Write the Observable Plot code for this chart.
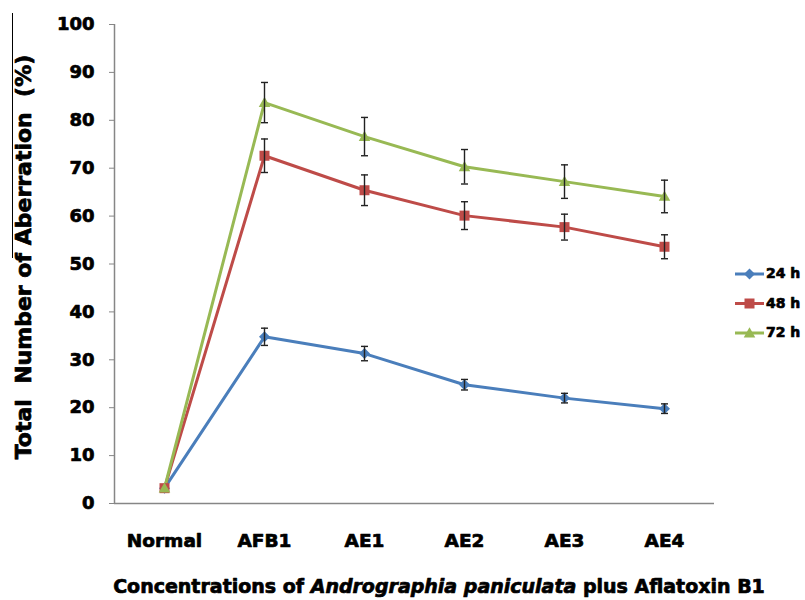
<!DOCTYPE html>
<html>
<head>
<meta charset="utf-8">
<script src="https://cdn.jsdelivr.net/npm/d3@7"></script>
<script src="https://cdn.jsdelivr.net/npm/@observablehq/plot@0.6"></script>
<style>
  html, body { margin: 0; padding: 0; background: #fff; }
  #chart svg { display: block; }
  #chart svg text { stroke: #000; stroke-width: 0.7px; paint-order: stroke; stroke-linejoin: round; }
</style>
</head>
<body>
<div id="chart"></div>
<script>
// ---- data ----
const categories = ["Normal", "AFB1", "AE1", "AE2", "AE3", "AE4"];
const seriesNames = ["24 h", "48 h", "72 h"];
const values24 = [3.2, 34.8, 31.3, 24.8, 22.0, 19.8];
const errors24 = [0, 1.8, 1.5, 1.1, 1.0, 1.0];
const values48 = [3.2, 72.6, 65.4, 60.1, 57.7, 53.6];
const errors48 = [0, 3.5, 3.2, 2.9, 2.7, 2.5];
const values72 = [3.2, 83.7, 76.6, 70.3, 67.2, 64.1];
const errors72 = [0, 4.2, 4.0, 3.6, 3.5, 3.4];
const yTicks = [0, 10, 20, 30, 40, 50, 60, 70, 80, 90, 100];
const colors = ["#4a7ebb", "#be4b48", "#98b954"];

// ---- symbols ----
const rad = (size) => Math.sqrt(size / Math.PI);
const diamond = {draw(ctx, size) { const r = rad(size); ctx.moveTo(0, -r); ctx.lineTo(r, 0); ctx.lineTo(0, r); ctx.lineTo(-r, 0); ctx.closePath(); }};
const square = {draw(ctx, size) { const r = rad(size); ctx.rect(-r, -r, 2 * r, 2 * r); }};
const triangle = {draw(ctx, size) { const r = rad(size); ctx.moveTo(0, -r * 1.05); ctx.lineTo(r * 1.05, r * 0.8); ctx.lineTo(-r * 1.05, r * 0.8); ctx.closePath(); }};
const cap = {draw(ctx, size) { const r = rad(size); ctx.moveTo(-r, 0); ctx.lineTo(r, 0); }};
const symbols = [diamond, square, triangle];
const symbolR = [5.5, 5, 5.5];

const allValues = [values24, values48, values72];
const allErrors = [errors24, errors48, errors72];
const series = seriesNames.map((name, i) => ({
  name, color: colors[i], symbol: symbols[i], r: symbolR[i],
  rows: categories.map((c, j) => ({cat: c, v: allValues[i][j], e: allErrors[i][j]}))
}));

const W = 805, H = 600;
const marginLeft = 114, marginRight = 91, marginTop = 24, marginBottom = 97;
const halfStep = (W - marginLeft - marginRight) / categories.length / 2;
const axisGray = "#868686";
const font = "'DejaVu Sans', sans-serif";

const marks = [
  Plot.ruleY([0], {stroke: axisGray, strokeWidth: 1.5}),
  Plot.ruleX([categories[0]], {y1: 0, y2: 100, dx: -halfStep, stroke: axisGray, strokeWidth: 1.5}),
  Plot.axisY({ticks: yTicks, tickSize: 5, tickPadding: 15, stroke: axisGray, fill: "black",
    fontSize: 18, fontWeight: "bold", label: null, tickFormat: d => String(d)}),
  Plot.axisX({tickSize: 0, tickPadding: 30, fill: "black", fontSize: 18.5, fontWeight: "bold", label: null})
];
for (const s of series) {
  marks.push(Plot.line(s.rows, {x: "cat", y: "v", stroke: s.color, strokeWidth: 3}));
}
for (const s of series) {
  marks.push(Plot.dot(s.rows, {x: "cat", y: "v", symbol: s.symbol, r: s.r, fill: s.color, stroke: "none"}));
}
for (const s of series) {
  const er = s.rows.filter(d => d.e > 0);
  marks.push(Plot.ruleX(er, {x: "cat", y1: d => d.v - d.e, y2: d => d.v + d.e, stroke: "#222", strokeWidth: 1.4}));
  marks.push(Plot.dot(er, {x: "cat", y: d => d.v + d.e, symbol: cap, r: 3.5, stroke: "#222", strokeWidth: 1.4, fill: "none"}));
  marks.push(Plot.dot(er, {x: "cat", y: d => d.v - d.e, symbol: cap, r: 3.5, stroke: "#222", strokeWidth: 1.4, fill: "none"}));
}

const plot = Plot.plot({
  width: W, height: H,
  marginLeft, marginRight, marginTop, marginBottom,
  style: {fontFamily: font, background: "white", overflow: "visible"},
  x: {type: "point", domain: categories, padding: 0.5, align: 0.5, label: null},
  y: {domain: [0, 100], label: null},
  marks
});
document.getElementById("chart").appendChild(plot);

// ---- titles & legend ----
const svg = d3.select(plot);
svg.append("text")
  .attr("transform", "translate(25,257) rotate(-90)")
  .attr("text-anchor", "middle")
  .attr("dominant-baseline", "middle")
  .style("white-space", "pre")
  .attr("font-family", font).attr("font-weight", "bold").attr("font-size", 22)
  .attr("fill", "black")
  .text("Total  Number of Aberration  (%)");
svg.append("line")
  .attr("x1", 12.5).attr("x2", 12.5).attr("y1", 13).attr("y2", 258)
  .attr("stroke", "black").attr("stroke-width", 1);

const xt = svg.append("text")
  .attr("x", 439).attr("y", 593)
  .attr("text-anchor", "middle")
  .attr("font-family", font).attr("font-weight", "bold").attr("font-size", 19)
  .attr("fill", "black");
xt.append("tspan").text("Concentrations of ");
xt.append("tspan").attr("font-style", "italic").text("Andrographia paniculata");
xt.append("tspan").text(" plus Aflatoxin B1");

const lg = svg.append("g");
series.forEach((s, i) => {
  const y = 274 + i * 29.5;
  const g = lg.append("g").attr("transform", `translate(0,${y})`);
  g.append("line").attr("x1", 735).attr("x2", 764).attr("y1", 0).attr("y2", 0)
    .attr("stroke", s.color).attr("stroke-width", 3);
  const p = d3.path();
  s.symbol.draw(p, Math.PI * s.r * s.r);
  g.append("path").attr("transform", "translate(749.5,0)").attr("d", p.toString()).attr("fill", s.color);
  g.append("text").attr("x", 766).attr("y", 0)
    .attr("text-anchor", "start").attr("dominant-baseline", "middle")
    .attr("font-family", font).attr("font-weight", "bold").attr("font-size", 14)
    .attr("fill", "black").text(s.name);
});
</script>
</body>
</html>
